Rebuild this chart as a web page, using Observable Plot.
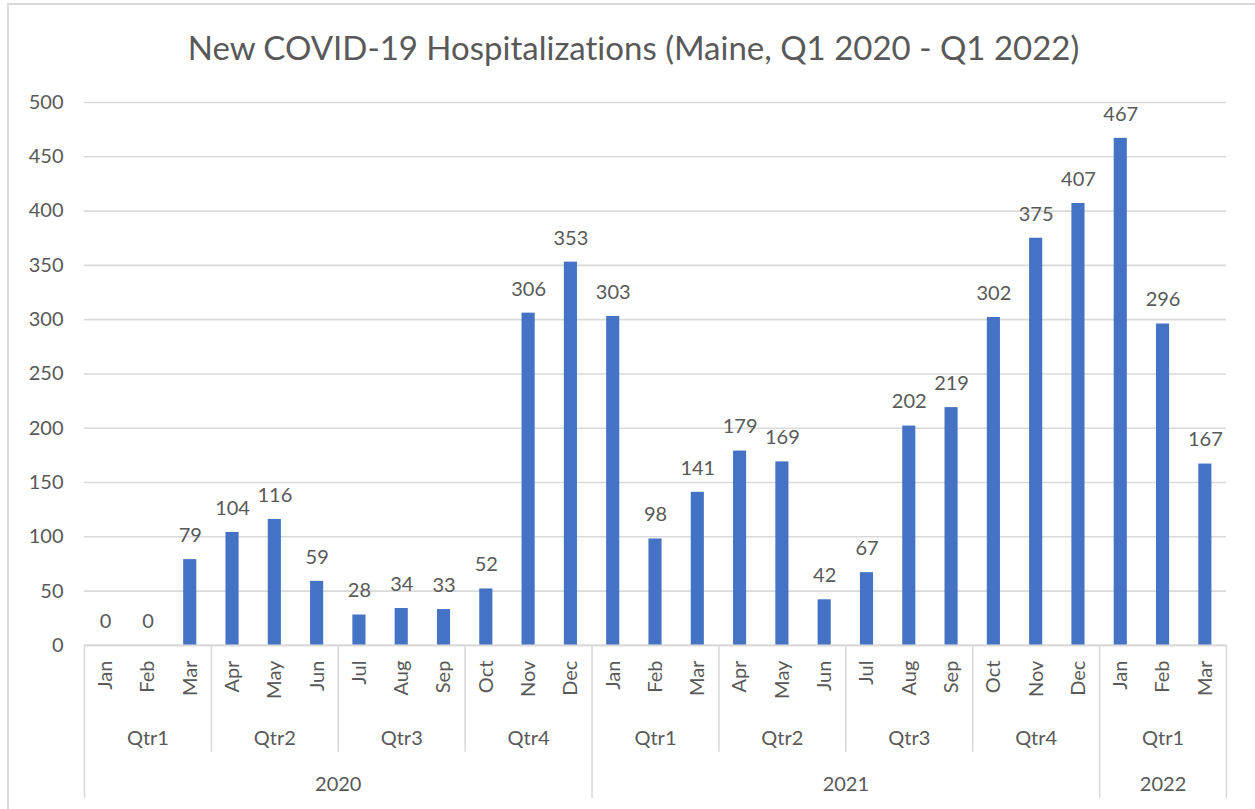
<!DOCTYPE html>
<html>
<head>
<meta charset="utf-8">
<script src="https://cdn.jsdelivr.net/npm/d3@7"></script>
<script src="https://cdn.jsdelivr.net/npm/@observablehq/plot@0.6"></script>
<style>
  html, body { margin: 0; padding: 0; background: #fff; }
  #wrap { position: relative; width: 1255px; height: 809px; overflow: hidden; }
  #border { position: absolute; left: 7px; top: 3px; width: 1300px; height: 900px;
            border-left: 2px solid #D9D9D9; border-top: 2px solid #D9D9D9; pointer-events: none; }
  #chart { position: absolute; left: 0; top: 0; }
  svg text { font-variant-ligatures: none; font-feature-settings: "liga" 0; }
</style>
</head>
<body>
<div id="wrap"><div id="chart"></div><div id="border"></div></div>
<script>
const title = "New COVID-19 Hospitalizations (Maine, Q1 2020 - Q1 2022)";
const months = ["Jan","Feb","Mar","Apr","May","Jun","Jul","Aug","Sep","Oct","Nov","Dec",
                "Jan","Feb","Mar","Apr","May","Jun","Jul","Aug","Sep","Oct","Nov","Dec",
                "Jan","Feb","Mar"];
const values = [0,0,79,104,116,59,28,34,33,52,306,353,
                303,98,141,179,169,42,67,202,219,302,375,407,
                467,296,167];
const quarters = ["Qtr1","Qtr1","Qtr1","Qtr2","Qtr2","Qtr2","Qtr3","Qtr3","Qtr3","Qtr4","Qtr4","Qtr4",
                  "Qtr1","Qtr1","Qtr1","Qtr2","Qtr2","Qtr2","Qtr3","Qtr3","Qtr3","Qtr4","Qtr4","Qtr4",
                  "Qtr1","Qtr1","Qtr1"];
const years = ["2020","2020","2020","2020","2020","2020","2020","2020","2020","2020","2020","2020",
               "2021","2021","2021","2021","2021","2021","2021","2021","2021","2021","2021","2021",
               "2022","2022","2022"];
const yTicks = [0,50,100,150,200,250,300,350,400,450,500];

const data = months.map((m, i) => ({i, month: m, value: values[i], quarter: quarters[i], year: years[i]}));

function runs(keyFn, labelFn) {
  const out = [];
  data.forEach(d => {
    const k = keyFn(d);
    const last = out[out.length - 1];
    if (last && last.key === k) last.end = d.i + 1;
    else out.push({key: k, label: labelFn(d), start: d.i, end: d.i + 1});
  });
  return out;
}
const qGroups = runs(d => d.year + d.quarter, d => d.quarter);
const yGroups = runs(d => d.year, d => d.year);
const yearBounds = [...yGroups.map(g => g.start), yGroups[yGroups.length - 1].end];
const qBounds = qGroups.map(g => g.start).filter(s => !yearBounds.includes(s));

const txt = "#595959", grid = "#D9D9D9";
const chart = Plot.plot({
  width: 1255,
  height: 809,
  marginLeft: 84,
  marginRight: 29,
  marginTop: 102,
  marginBottom: 11,
  style: {fontFamily: "Lato, 'Open Sans', sans-serif", fontSize: "20px", color: txt, background: "white", overflow: "visible"},
  x: {type: "linear", domain: [0, months.length], axis: null},
  y: {domain: [-141, 500], axis: null},
  marks: [
    Plot.gridY(yTicks, {stroke: grid, strokeOpacity: 1, strokeWidth: 1.6}),
    Plot.axisY(yTicks, {tickSize: 0, tickPadding: 21, fontSize: 20, fill: txt, label: null}),
    Plot.rectY(data, {x1: d => d.i + 0.345, x2: d => d.i + 0.655, y1: 0, y2: "value", fill: "#4472C4"}),
    Plot.ruleY([0], {stroke: grid, strokeWidth: 1.6}),
    Plot.ruleX(qBounds, {y1: 0, y2: -98.5, stroke: grid, strokeWidth: 1.6}),
    Plot.ruleX(yearBounds, {y1: 0, y2: -141, stroke: grid, strokeWidth: 1.6}),
    Plot.text(data, {x: d => d.i + 0.5, y: "value", text: d => String(d.value), dy: -24, fontSize: 20, fill: txt}),
    Plot.text(data, {x: d => d.i + 0.5, y: -14, text: "month", rotate: -90, textAnchor: "end", lineAnchor: "middle", fontSize: 20, fill: txt}),
    Plot.text(qGroups, {x: g => (g.start + g.end) / 2, y: -86, text: "label", fontSize: 20, fill: txt}),
    Plot.text(yGroups, {x: g => (g.start + g.end) / 2, y: -128, text: "label", fontSize: 20, fill: txt}),
    Plot.text([title], {frameAnchor: "top", dx: -22, dy: -53, lineAnchor: "middle", fontSize: 33, fill: txt})
  ]
});
document.getElementById("chart").appendChild(chart);
</script>
</body>
</html>
